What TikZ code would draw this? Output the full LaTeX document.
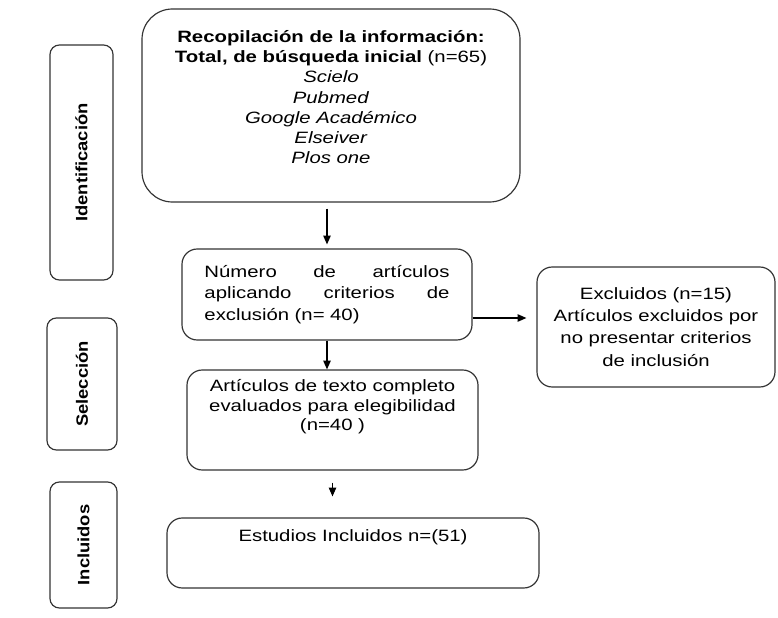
\documentclass[tikz,border=0pt]{standalone}
\usepackage{fontspec}
\setmainfont{Liberation Sans}[FakeStretch=1.24]
\newfontfamily\phasefont{Liberation Sans}[FakeStretch=1.12]
\usetikzlibrary{arrows.meta}

\begin{document}
\begin{tikzpicture}[
  x=0.03cm,y=-0.03cm,
  every node/.style={font=\fontsize{14}{18}\selectfont},
  frame/.style={draw=black!80,line width=1pt,rounded corners=13pt},
  stage/.style={frame,rounded corners=8pt},
  phase/.style={rotate=90,font=\fontsize{14}{16}\phasefont\bfseries},
  flow/.style={-{Triangle[length=2.6mm,width=2.2mm]},line width=1pt}]
  \useasboundingbox (0,0) rectangle (778,618);
  % etapas
  \node[stage,minimum width=1.89cm,minimum height=7.05cm] (ident) at (81.5,162.5) {};
  \node[phase] at (ident) {Identificación};
  \node[stage,minimum width=2.1cm,minimum height=3.96cm] (selec) at (82,384) {};
  \node[phase] at (selec) {Selección};
  \node[stage,minimum width=2.01cm,minimum height=3.78cm] (incl) at (83.5,545) {};
  \node[phase] at (incl) {Incluidos};
  % cajas del flujo
  \node[frame,rounded corners=26pt,minimum width=11.34cm,minimum height=5.79cm] (recop) at (331,105.5) {};
  \node[anchor=north,align=center,font=\fontsize{14}{17.2}\selectfont] at ([yshift=-0.54cm]recop.north)
    {\textbf{Recopilación de la información:}\\
     \textbf{Total, de búsqueda inicial} (n=65)\\
     \textit{Scielo}\\ \textit{Pubmed}\\ \textit{Google Académico}\\
     \textit{Elseiver}\\ \textit{Plos one}};
  \node[frame,minimum width=8.7cm,minimum height=2.73cm,text width=7.35cm,
    font=\fontsize{14}{18.3}\selectfont] (numero) at (327,294.5)
    {\hbox to\linewidth{Número\hfill de\hfill artículos}
     \hbox to\linewidth{aplicando\hfill criterios\hfill de}
     exclusión (n= 40)};
  \node[frame,minimum width=7.14cm,minimum height=3.6cm,align=center,
    font=\fontsize{14}{19}\selectfont] (excl) at (656,327)
    {Excluidos (n=15)\\ Artículos excluidos por\\ no presentar criterios\\ de inclusión};
  \node[frame,minimum width=8.73cm,minimum height=3cm,align=center,
    font=\fontsize{14}{16.6}\selectfont] (artic) at (332.5,420)
    {Artículos de texto completo\\ evaluados para elegibilidad\\ (n=40 )\\[3mm]};
  \node[frame,minimum width=11.16cm,minimum height=2.1cm] (estud) at (353,553) {};
  \node at ([yshift=-0.6cm]estud.north) {Estudios Incluidos n=(51)};
  % flechas
  \draw[flow,shorten <=1.8mm,shorten >=1.2mm] (recop.south -| numero.north) -- (numero.north);
  \draw[flow] (numero.south) -- (numero.south |- artic.north);
  \draw[flow,shorten <=3.6mm,shorten >=6.3mm] (artic.south) -- (artic.south |- estud.north);
  \draw[flow,shorten >=3mm] ([yshift=-7.05mm]numero.east) -- ([yshift=-7.05mm]numero.east -| excl.west);
\end{tikzpicture}
\end{document}
